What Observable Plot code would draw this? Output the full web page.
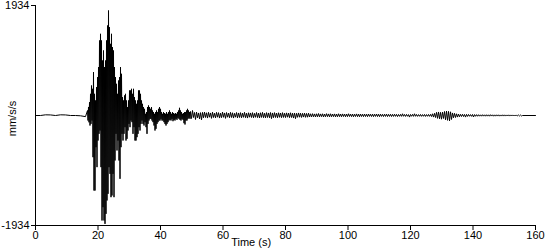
<!DOCTYPE html>
<html><head><meta charset="utf-8">
<script src="https://cdn.jsdelivr.net/npm/d3@7"></script>
<script src="https://cdn.jsdelivr.net/npm/@observablehq/plot@0.6"></script>
<style>html,body{margin:0;padding:0;background:#fff} svg{display:block}</style>
</head><body><div id="chart"></div>
<script>
// Axis tick values / labels
const xTicks = [0, 20, 40, 60, 80, 100, 120, 140, 160];
const yTicks = [-1934, 1934];
const xLabel = "Time (s)";
const yLabel = "mm/s/s";

// Pre-event (quiet) part: start time (s), sample step (s), acceleration (mm/s/s)
const preStart = 0;
const preStep = 1.6;
const preValues = [0, 0, 12, 10, 0, 12, 10, 0, 0, -5, -20];

// Strong-motion burst: peak / trough pairs
const burstStart = 16.64;
const burstStep = 0.16;
const burstValues = [
  88,-88, 150,-120, 234,-176, 381,-147, 527,-88, 469,-733, 762,-1319, 381,-1319, 264,-557, 498,-908,
  674,-440, 850,-322, 1319,-264, 1436,-908, 1319,-1846, 967,-1612, 1143,-1846, 850,-1905, 967,-1729, 1319,-1494,
  1582,-1377, 1846,-908, 1553,-1026, 1260,-1436, 1436,-1406, 1201,-1026, 1143,-1436, 850,-791, 674,-322, 557,-615,
  381,-440, 615,-791, 674,-1113, 850,-557, 733,-322, 322,-440, 264,-322, 352,-205, 381,-440, 264,-410,
  147,-264, 264,-147, 440,-205, 440,-88, 469,-117, 381,-322, 469,-205, 322,-440, 264,-440, 205,-381,
  264,-322, 440,-205, 440,-264, 381,-147, 264,-88, 205,-147, 147,-176, 117,-117, 29,-205, 59,-322,
  147,-147, 176,-88, 147,-59, 117,-59, 147,-88, 88,-117, 59,-176, 29,-264, 59,-234, 88,-147,
  59,-117, 117,-88, 147,-88, 117,-59, 59,-88, 29,-88, 59,-117, 41,-147, 29,-176, 59,-147,
  29,-117, 59,-88, 88,-76, 59,-88, 29,-59, 59,-100, 41,-76, 29,-88, 41,-59, 29,-76,
  59,-41, 88,-59, 135,-76, 88,-88, 59,-59, 29,-76, 41,-135, 59,-158, 59,-88, 88,-88,
  117,-59, 88,-41, 59,-59
];

// Coda
const codaStart = 49.6;
const codaStep = 0.32;
const codaValues = [
  70,-53,88,-35,53,-70,60,-40,45,-60,
  50,-75,55,-40,60,-35,48,-45,55,-30,
  45,-50,58,-35,40,-42,55,-30,50,-45,
  40,-38,60,-32,45,-50,52,-30,42,-40,
  55,-35,48,-45,38,-30,52,-42,45,-35,
  50,-40,42,-32,55,-38,40,-45,48,-30,
  45,-35,50,-40,38,-32,52,-36,42,-44,
  48,-34,55,-38,40,-42,50,-35,45,-40,
  52,-55,45,-38,50,-35,42,-40,48,-32,
  44,-38,50,-34,40,-36,46,-30,42,-38,
  48,-35,40,-45,44,-55,38,-32,45,-30,
  40,-34,38,-28,42,-32,36,-30,40,-26,
  30,-25,32,-22,28,-26,30,-22,34,-24,
  28,-20,30,-25,26,-22,32,-20,28,-24,
  30,-22,26,-20,28,-24,25,-22,30,-20,
  26,-22,28,-18,24,-22,26,-20,30,-18,
  24,-20,26,-22,22,-18,28,-20,24,-22,
  26,-18,22,-20,25,-18,22,-20,26,-16,
  22,-18,24,-20,22,-16,26,-18,22,-20,
  24,-16,20,-18,22,-16,24,-18,20,-16,
  22,-18,20,-16,22,-15,20,-18,18,-15,
  20,-15,30,-14,18,-16,20,-14,16,-28,
  18,-14,20,-15,30,-14,18,-15,16,-14,
  18,-15,16,-14,18,-16,16,-14,18,-15,
  20,-18,30,-28,38,-35,55,-50,62,-58,
  55,-65,60,-52,70,-75,78,-85,72,-95,
  65,-70,45,-40,38,-35,30,-28,25,-22,
  20,-18,22,-18,18,-28,20,-16,18,-14,
  16,-15,18,-26,16,-14,15,-13,14,-12,
  12,-12,14,-11,12,-12,13,-11,12,-12,
  14,-10,12,-12,11,-11,12,-10,12,-11,
  10,-10,12,-10,11,-10,10,-9,11,-10,
  10,-9,10,-9,9,-9,10,-8,9,-8,
  8,-8,0
];
const endTime = 160;
const endValue = 0;

const data = [];
preValues.forEach((v, i) => data.push({t: preStart + i * preStep, v}));
burstValues.forEach((v, i) => data.push({t: burstStart + i * burstStep, v}));
codaValues.forEach((v, i) => data.push({t: codaStart + i * codaStep, v}));
data.push({t: endTime, v: endValue});

const chart = Plot.plot({
  width: 550,
  height: 250,
  marginLeft: 35,
  marginRight: 15,
  marginTop: 5,
  marginBottom: 25,
  style: {fontFamily: "'Liberation Sans', Arial, sans-serif", fontSize: "11px", color: "#000", background: "#fff"},
  x: {domain: [0, 160]},
  y: {domain: [-1934, 1934]},
  marks: [
    Plot.line(data, {x: "t", y: "v", stroke: "#000", strokeWidth: 1}),
    Plot.ruleX([0], {stroke: "#000"}),
    Plot.ruleY([-1934], {stroke: "#000"}),
    Plot.axisX({ticks: xTicks, tickSize: 5, tickPadding: 1, tickFormat: d => String(d), label: null, stroke: "#000", fill: "#000"}),
    Plot.axisY({ticks: yTicks, tickSize: 4, tickPadding: 2, tickFormat: d => String(d), label: null, stroke: "#000", fill: "#000"}),
    Plot.text([xLabel], {x: () => 69, frameAnchor: "bottom", dy: 13, lineAnchor: "top", textAnchor: "middle", text: d => d, fill: "#000"}),
    Plot.text([yLabel], {y: () => 0, frameAnchor: "left", dx: -20, dy: 3, rotate: -90, textAnchor: "middle", lineAnchor: "bottom", text: d => d, fill: "#000"})
  ]
});
document.getElementById("chart").appendChild(chart);
</script>
</body></html>
